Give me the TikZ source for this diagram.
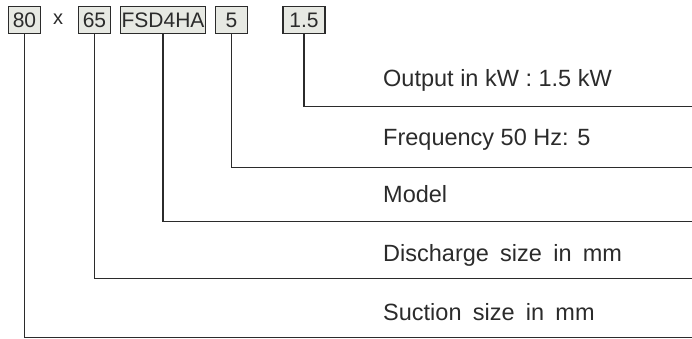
\documentclass[tikz,border=0pt]{standalone}
\usepackage{fontspec}
\setmainfont{Liberation Sans}
\usepackage{tikz}
\usetikzlibrary{positioning}
\definecolor{InkGray}{HTML}{2B2B2B}
\definecolor{BoxFill}{HTML}{E7E9E3}
\newcommand{\wordgap}{\hspace{0.48em}}

\tikzset{
  codebox/.style={draw=InkGray, fill=BoxFill, line width=1.1pt, minimum height=27pt,
                  inner sep=0pt, text=InkGray, font=\fontsize{21}{25}\selectfont},
  lead/.style={draw=InkGray, line width=1.3pt},
  desc/.style={anchor=base west, inner sep=0pt, text=InkGray, font=\fontsize{23.5}{28}\selectfont}
}

\begin{document}
\begin{tikzpicture}[x=1pt, y=-1pt]
  \useasboundingbox (0,0) rectangle (692,339);
  \node[anchor=center, text=InkGray, font=\fontsize{20}{24}\selectfont] (times) at (58,19) {x};
  \foreach \name/\cx/\boxw/\code/\ly in {
    b80/24.5/32/80/337.5,
    b65/94.5/32/65/278.5,
    bmod/163/85/FSD4HA/221.5,
    bfrq/231.5/32/5/167.5,
    bkw/304/42/1.5/106.5
  }{
    \node[codebox, minimum width=\boxw] (\name) at (\cx,20) {\code};
    \coordinate (\name-end) at (692,\ly);
    \draw[lead] (\name.south) |- (\name-end);
  }
  \node[desc] (lkw)  at (383,86.5) {Output in kW : 1.5 kW};
  \node[desc] (lfrq) at (383,145.5) {Frequency 50 Hz: 5};
  \node[desc] (lmod) at (383,202.5) {Model};
  \node[desc] (l65)  at (383,261) {Discharge\wordgap size\wordgap in\wordgap mm};
  \node[desc] (l80)  at (383,320) {Suction\wordgap size\wordgap in\wordgap mm};
\end{tikzpicture}
\end{document}
